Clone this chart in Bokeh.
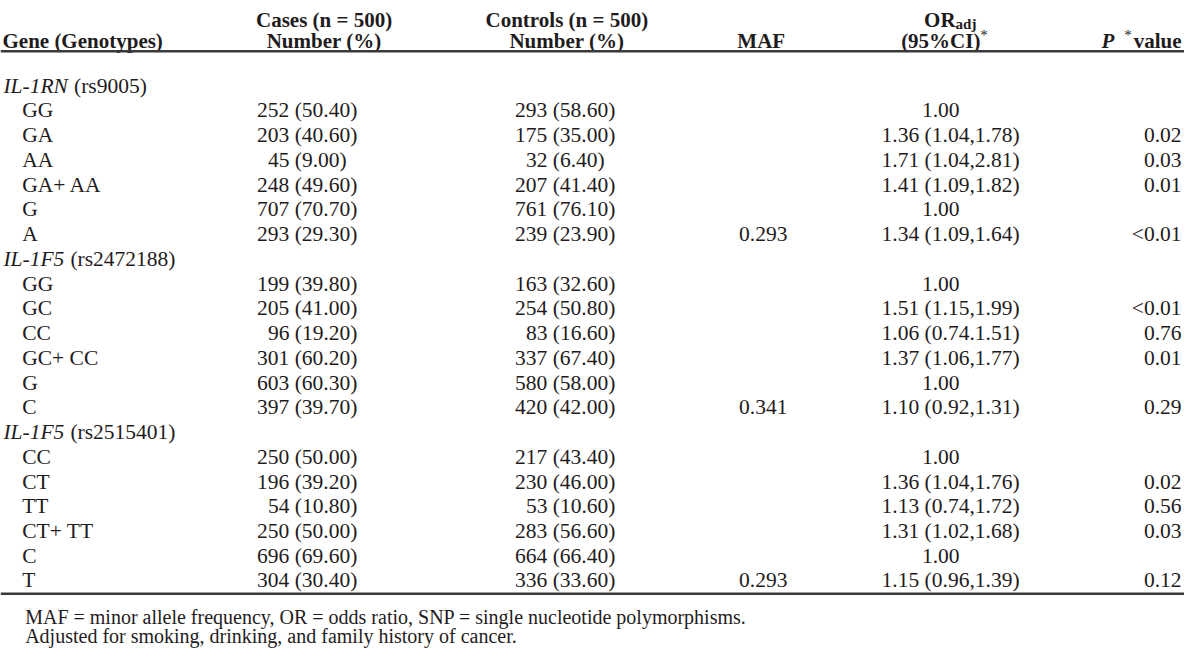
from bokeh.plotting import figure
from bokeh.models import Range1d
from bokeh.core.properties import value
from bokeh.embed import file_html
from bokeh.resources import INLINE

# ---------------- data ----------------
genes = ["IL-1RN", "IL-1F5", "IL-1F5"]
snps = ["(rs9005)", "(rs2472188)", "(rs2515401)"]
genotypes = [
    ["GG", "GA", "AA", "GA+ AA", "G", "A"],
    ["GG", "GC", "CC", "GC+ CC", "G", "C"],
    ["CC", "CT", "TT", "CT+ TT", "C", "T"],
]
cases_n = [252, 203, 45, 248, 707, 293, 199, 205, 96, 301, 603, 397, 250, 196, 54, 250, 696, 304]
cases_pct = ["50.40", "40.60", "9.00", "49.60", "70.70", "29.30",
             "39.80", "41.00", "19.20", "60.20", "60.30", "39.70",
             "50.00", "39.20", "10.80", "50.00", "69.60", "30.40"]
controls_n = [293, 175, 32, 207, 761, 239, 163, 254, 83, 337, 580, 420, 217, 230, 53, 283, 664, 336]
controls_pct = ["58.60", "35.00", "6.40", "41.40", "76.10", "23.90",
                "32.60", "50.80", "16.60", "67.40", "58.00", "42.00",
                "43.40", "46.00", "10.60", "56.60", "66.40", "33.60"]
maf = ["", "", "", "", "", "0.293", "", "", "", "", "", "0.341", "", "", "", "", "", "0.293"]
or_est = ["1.00", "1.36", "1.71", "1.41", "1.00", "1.34",
          "1.00", "1.51", "1.06", "1.37", "1.00", "1.10",
          "1.00", "1.36", "1.13", "1.31", "1.00", "1.15"]
or_ci = ["", "(1.04,1.78)", "(1.04,2.81)", "(1.09,1.82)", "", "(1.09,1.64)",
         "", "(1.15,1.99)", "(0.74.1.51)", "(1.06,1.77)", "", "(0.92,1.31)",
         "", "(1.04,1.76)", "(0.74,1.72)", "(1.02,1.68)", "", "(0.96,1.39)"]
p_vals = ["", "0.02", "0.03", "0.01", "", "<0.01",
          "", "<0.01", "0.76", "0.01", "", "0.29",
          "", "0.02", "0.56", "0.03", "", "0.12"]
footnotes = [
    "MAF = minor allele frequency, OR = odds ratio, SNP = single nucleotide polymorphisms.",
    "Adjusted for smoking, drinking, and family history of cancer.",
]

# ---------------- layout / style (reference-pixel coordinates) ----------------
FONT = value("Liberation Serif")
BODY = "21.5px"
HEAD = "21px"
SMALL = "15px"
NOTE = "20px"
INK = "#1f1c1d"
EM = 22.0              # body em in reference pixels
ROW0 = 87.3            # baseline of first body row
ROWH = 25.35
CASE_PAREN = 298.5
CTRL_PAREN = 560.0

p = figure(width=1184, height=648, output_backend="svg", toolbar_location=None,
           x_range=Range1d(0, 1200), y_range=Range1d(664, 0), min_border=0)
p.axis.visible = False
p.grid.visible = False
p.outline_line_color = None
p.background_fill_color = "white"
p.border_fill_color = "white"


def txt(xs, ys, ts, align="left", style="normal", size=BODY):
    p.text(x=xs, y=ys, text=ts, text_align=align, text_baseline="alphabetic",
           text_font=FONT, text_font_size=size, text_font_style=style, text_color=INK)


# header
H1, H2 = 20.0, 41.0
txt([2], [H2], ["Gene (Genotypes)"], style="bold", size=HEAD)
txt([328, 574], [H1, H1], ["Cases (n = 500)", "Controls (n = 500)"], align="center", style="bold", size=HEAD)
txt([328, 574], [H2, H2], ["Number (%)", "Number (%)"], align="center", style="bold", size=HEAD)
txt([771], [H2], ["MAF"], align="center", style="bold", size=HEAD)
txt([968], [H1], ["OR"], align="right", style="bold", size=HEAD)
txt([968], [H1 + 4], ["adj"], style="bold", size=SMALL)
txt([953], [H2], ["(95%CI)"], align="center", style="bold", size=HEAD)
txt([993], [H2 - 6], ["*"], size=SMALL)
txt([1197], [H2], ["value"], align="right", style="bold", size=HEAD)
txt([1139], [H2 - 6], ["*"], size=SMALL)
txt([1116], [H2], ["P"], style="bold italic", size=HEAD)

# rules
p.segment(x0=[0, 0], y0=[52, 608], x1=[1200, 1200], y1=[52, 608], line_color="#3a3a3a", line_width=2.5)

# body
gx, gy, sx, sy = [], [], [], []
lx, ly, lt = [], [], []
cx, cy, ct = [], [], []
kx, ky, kt = [], [], []
mx, my, mt = [], [], []
ox, oy, ot, oax, oay, oat = [], [], [], [], [], []
px_, py_, pt = [], [], []
gene_w = {"IL-1RN": 3.0, "IL-1F5": 2.833}
row = 0
k = 0
for gi, gene in enumerate(genes):
    y = ROW0 + row * ROWH
    gx.append(3); gy.append(y)
    sx.append(3 + (gene_w[gene] + 0.25) * EM); sy.append(y)
    row += 1
    for g in genotypes[gi]:
        y = ROW0 + row * ROWH
        lx.append(22); ly.append(y); lt.append(g)
        cn = str(cases_n[k])
        cx.append(CASE_PAREN - (len(cn) * 0.5 + 0.25) * EM); cy.append(y)
        ct.append(f"{cn} ({cases_pct[k]})")
        kn = str(controls_n[k])
        kx.append(CTRL_PAREN - (len(kn) * 0.5 + 0.25) * EM); ky.append(y)
        kt.append(f"{kn} ({controls_pct[k]})")
        if maf[k]:
            mx.append(773); my.append(y); mt.append(maf[k])
        if or_ci[k]:
            ox.append(893); oy.append(y); ot.append(f"{or_est[k]} {or_ci[k]}")
        else:
            oax.append(953); oay.append(y); oat.append(or_est[k])
        if p_vals[k]:
            px_.append(1197); py_.append(y); pt.append(p_vals[k])
        row += 1
        k += 1

txt(gx, gy, genes, style="italic")
txt(sx, sy, snps)
txt(lx, ly, lt)
txt(cx, cy, ct)
txt(kx, ky, kt)
txt(mx, my, mt, align="center")
txt(ox, oy, ot)
txt(oax, oay, oat, align="center")
txt(px_, py_, pt, align="right")

txt([25, 25], [632, 651.5], footnotes, size=NOTE)

open("out.html", "w").write(file_html(p, INLINE))
